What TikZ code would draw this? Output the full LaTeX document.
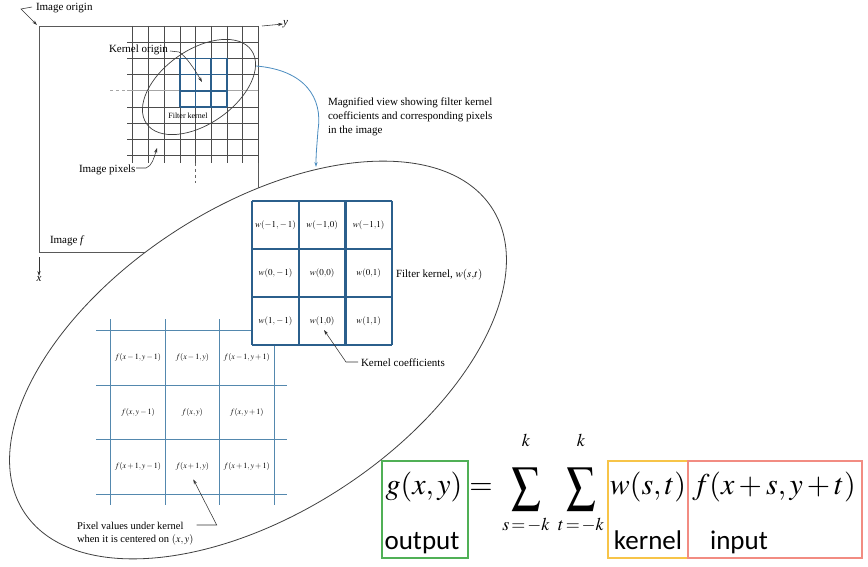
\documentclass[tikz,border=0pt]{standalone}
\usepackage{mathptmx}
\usepackage{graphicx}
\usepackage{fontspec}
\setmainfont{Liberation Serif}
\newfontfamily\calibri{Carlito}
\usetikzlibrary{arrows.meta}
\definecolor{kblue}{RGB}{43,95,140}
\definecolor{pblue}{RGB}{84,136,174}
\definecolor{cblue}{RGB}{74,140,192}
\definecolor{gboxc}{RGB}{80,176,86}
\definecolor{oboxc}{RGB}{247,196,72}
\definecolor{rboxc}{RGB}{242,140,130}
\begin{document}
\begin{tikzpicture}[x=1pt,y=-1pt,
  lbl/.style={font=\fontsize{11}{14}\selectfont, inner sep=0pt, outer sep=0pt},
  tinylbl/.style={font=\fontsize{8}{9}\selectfont, inner sep=0pt},
  wcell/.style={font=\fontsize{9}{10}\selectfont, inner sep=0pt},
  fcell/.style={font=\fontsize{8}{9}\selectfont, inner sep=0pt},
  leader/.style={draw=black!80, line width=0.55pt},
  tip/.style={-{Stealth[length=5pt,width=3.2pt]}},
  pixline/.style={draw=black!70, line width=0.6pt},
  kline/.style={draw=kblue, line width=1.7pt},
  bigk/.style={draw=kblue, line width=2.6pt},
  fline/.style={draw=pblue, line width=1pt},
  eqbox/.style={line width=2pt},
  eqm/.style={font=\fontsize{30}{34}\selectfont, inner sep=0pt},
  eqsig/.style={font=\fontsize{29}{32}\selectfont, inner sep=0pt},
  eqlim/.style={font=\fontsize{18}{20}\selectfont, inner sep=0pt},
  eqt/.style={font=\calibri\fontsize{27}{30}\selectfont, inner sep=0pt}
]
\useasboundingbox[fill=white] (0,0) rectangle (868,567);

% image frame and pixel grid
\draw[black!65, line width=0.8pt] (39,26) rectangle (258,252);
\foreach \i in {0,...,8} { \draw[pixline] ({132.7+15.7*\i},26) -- ({132.7+15.7*\i},163); }
\foreach \j in {1,2,3,5,6,7,8} { \draw[pixline] (127,{26+16.2*\j}) -- (258,{26+16.2*\j}); }
\draw[black!35, line width=1.2pt] (127,90.8) -- (258,90.8);
\draw[black!35, dashed, line width=0.8pt] (110,90.8) -- (127,90.8);
\draw[black!60, dashed, line width=0.6pt] (195.5,163) -- (195.5,183);
% small kernel
\foreach \i in {0,...,3} { \draw[kline] ({179.8+15.7*\i},58.4) -- ({179.8+15.7*\i},107); }
\foreach \j in {0,...,3} { \draw[kline] (179.8,{58.4+16.2*\j}) -- (226.9,{58.4+16.2*\j}); }
% small ellipse
\draw[black!75, line width=0.7pt, rotate around={35:(199,87)}] (199,87) ellipse [x radius=64, y radius=37];

% axes
\node[lbl, anchor=west, font=\fontsize{11}{13}\selectfont\itshape] (ylab) at (283,24) {y};
\node[lbl, anchor=north, font=\fontsize{11}{13}\selectfont\itshape] (xlab) at (39,276) {x};
\coordinate (yax0) at (262,26);
\coordinate (xax0) at (39,257);
\draw[leader, tip] (yax0) -- (ylab.west);
\draw[leader, tip] (xax0) -- (xlab.north);

% labels in image
\node[lbl, anchor=base west] (origin) at (36,11) {Image origin};
\coordinate (or1) at (32,7);
\coordinate (or2) at (21,9);
\coordinate (or3) at (37,25);
\draw[leader, tip] (or1) -- (or2) -- (or3);

\node[lbl, anchor=base west] (korig) at (109,53) {Kernel origin};
\coordinate (ko0) at (170,51);
\coordinate (ko1) at (179,52);
\coordinate (ko2) at (202,82);
\draw[leader, tip] (ko0) -- (ko1) .. controls (186,56) and (195,70) .. (ko2);

\node[tinylbl] (fk) at (188,116) {Filter kernel};

\node[lbl, anchor=base west] (ipix) at (79,172) {Image pixels};
\coordinate (ip0) at (136,168);
\coordinate (ip1) at (146,168);
\coordinate (ip2) at (157,148);
\draw[leader, tip] (ip0) -- (ip1) .. controls (152,166) and (154,158) .. (ip2);

\node[lbl, anchor=base west] (imf) at (50,243) {Image \textit{f}};

% big ellipse
\draw[black!75, line width=0.8pt, fill=white, rotate around={33:(258,360)}] (258,360) ellipse [x radius=279, y radius=153];

% connector from small ellipse to big ellipse
\coordinate (cs) at (256,66);
\coordinate (ce) at (316,167);
\draw[cblue, line width=0.8pt, tip] (cs) .. controls (305,70) and (323,98) .. (318,130) .. controls (317,145) and (316,152) .. (ce);

\node[lbl, anchor=north west, align=left] (mag) at (328,97.5)
  {Magnified view showing filter kernel\\coefficients and corresponding pixels\\in the image};

% magnified pixel grid
\foreach \x in {110.7,165.3,219.3,274} { \draw[fline] (\x,319) -- (\x,505); }
\foreach \y in {330.5,385,439.5,494} { \draw[fline] (96,\y) -- (287,\y); }

\node[fcell] (f11) at (138,357.8) {$f(x-1,y-1)$};
\node[fcell] (f12) at (192.3,357.8) {$f(x-1,y)$};
\node[fcell] (f13) at (246.7,357.8) {$f(x-1,y+1)$};
\node[fcell] (f21) at (138,412.3) {$f(x,y-1)$};
\node[fcell] (f22) at (192.3,412.3) {$f(x,y)$};
\node[fcell] (f23) at (246.7,412.3) {$f(x,y+1)$};
\node[fcell] (f31) at (138,466.8) {$f(x+1,y-1)$};
\node[fcell] (f32) at (192.3,466.8) {$f(x+1,y)$};
\node[fcell] (f33) at (246.7,466.8) {$f(x+1,y+1)$};

% magnified kernel
\fill[white] (252,201) rectangle (392,345);
\foreach \x in {252,299,345.5,392} { \draw[bigk] (\x,201) -- (\x,345); }
\foreach \y in {201,249,297,345} { \draw[bigk] (252,\y) -- (392,\y); }

\node[wcell] (w11) at (275.5,225) {$w(-1{,}-1)$};
\node[wcell] (w12) at (322.2,225) {$w(-1{,}0)$};
\node[wcell] (w13) at (368.7,225) {$w(-1{,}1)$};
\node[wcell] (w21) at (275.5,273) {$w(0{,}-1)$};
\node[wcell] (w22) at (322.2,273) {$w(0{,}0)$};
\node[wcell] (w23) at (368.7,273) {$w(0{,}1)$};
\node[wcell] (w31) at (275.5,321) {$w(1{,}-1)$};
\node[wcell] (w32) at (322.2,321) {$w(1{,}0)$};
\node[wcell] (w33) at (368.7,321) {$w(1{,}1)$};

\node[lbl, anchor=base west] (fkw) at (396,277) {Filter kernel, $w(s{,}t)$};

\node[lbl, anchor=base west] (kc) at (361,366) {Kernel coefficients};
\coordinate (kc0) at (358,362);
\coordinate (kc1) at (346,362);
\coordinate (kc2) at (324,330);
\draw[leader, tip] (kc0) -- (kc1) -- (kc2);

\node[lbl, anchor=north west, align=left, font=\fontsize{10.5}{13}\selectfont] (pv) at (77,522.5)
  {Pixel values under kernel\\when it is centered on $(x, y)$};
\coordinate (pv1) at (196.7,525);
\coordinate (pv2) at (216.7,525);
\coordinate (pv3) at (193.3,479.3);
\draw[leader, tip] (pv1) -- (pv2) -- (pv3);

% equation
\node[eqm, anchor=base] (gxy) at (424,494) {$g(x,y)$};
\node[eqm, anchor=base] (eq) at (481,494) {$=$};
\node[eqsig] (s1) at (526,489) {\scalebox{1}[1.2]{$\displaystyle\sum$}};
\node[eqsig] (s2) at (581,489) {\scalebox{1}[1.2]{$\displaystyle\sum$}};
\node[eqlim, anchor=south] (s1t) at (526,447) {$k$};
\node[eqlim, anchor=south] (s2t) at (581,447) {$k$};
\node[eqlim] (s1b) at (526,525) {$s\!=\!-k$};
\node[eqlim] (s2b) at (581,525) {$t\!=\!-k$};
\node[eqm, anchor=base] (wst) at (648,494) {$w(s,t)$};
\node[eqm, anchor=base] (fxy) at (774,494) {$f(x+s,y+t)$};

\node[eqt, anchor=base] (outl) at (422,549) {output};
\node[eqt, anchor=base] (kerl) at (648,549) {kernel};
\node[eqt, anchor=base] (inl) at (739,549) {input};

\draw[eqbox, draw=gboxc] (382,461) rectangle (468,558);
\draw[eqbox, draw=oboxc] (608,461) rectangle (688,558);
\draw[eqbox, draw=rboxc] (688,461) rectangle (862,558);
\end{tikzpicture}
\end{document}
